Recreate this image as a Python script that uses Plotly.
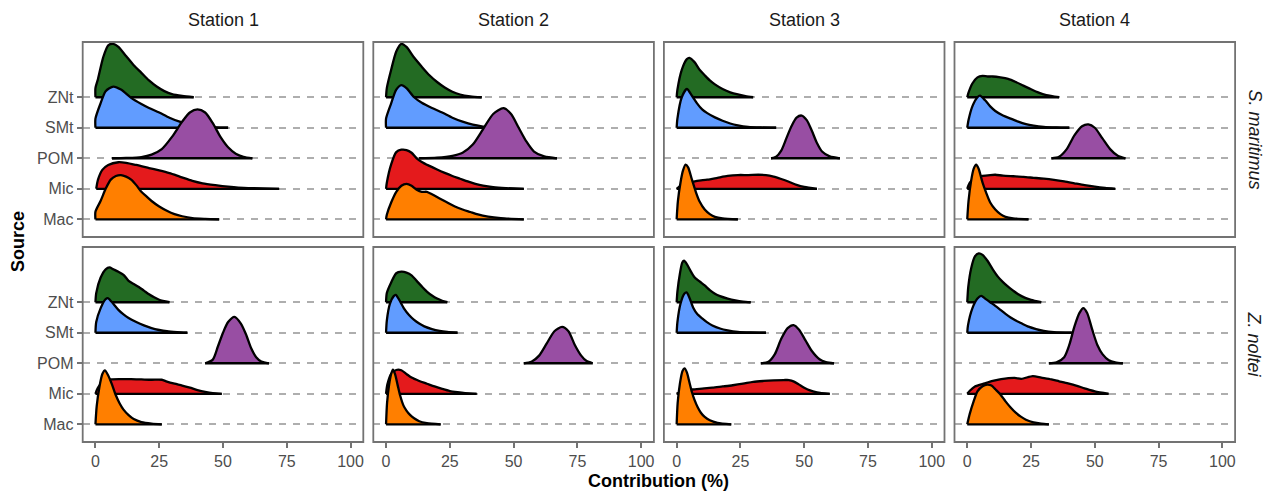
import plotly.graph_objects as go

W, H = 1270, 492

stations = ["Station 1", "Station 2", "Station 3", "Station 4"]
species = ["S. maritimus", "Z. noltei"]
sources = ["Mac", "Mic", "POM", "SMt", "ZNt"]          # bottom -> top
source_colors = ["#FF7F00", "#E41A1C", "#984EA3", "#619CFF", "#236B23"]
x_ticks = [0, 25, 50, 75, 100]

# Ridge outlines: (contribution %, ridge height in row units)
sm_station1 = {
    "ZNt": [(0, 0), (0, 0.3), (1, 0.6), (3, 1.3), (5, 1.7), (7, 1.75), (9, 1.65), (12, 1.35), (15, 1.05), (18, 0.8), (21, 0.55), (24, 0.35), (27, 0.2), (30, 0.1), (34, 0.04), (38.5, 0)],
    "SMt": [(0, 0), (0, 0.3), (2, 0.8), (4, 1.2), (7, 1.35), (10, 1.25), (14, 0.98), (18, 0.78), (21, 0.65), (25, 0.5), (29, 0.33), (33, 0.2), (37, 0.1), (42, 0.04), (47, 0.015), (52, 0)],
    "POM": [(6.5, 0), (12, 0.01), (18, 0.04), (22, 0.12), (26, 0.3), (30, 0.7), (34, 1.2), (37, 1.5), (40, 1.6), (43, 1.5), (46, 1.15), (49, 0.7), (52, 0.36), (55, 0.15), (58, 0.05), (61.5, 0)],
    "Mic": [(0.3, 0), (1, 0.3), (2.7, 0.62), (5, 0.78), (9, 0.87), (12, 0.85), (16, 0.78), (21, 0.68), (25, 0.6), (29, 0.51), (33, 0.4), (38, 0.26), (42, 0.18), (47, 0.12), (52, 0.07), (56, 0.04), (62, 0.02), (72, 0)],
    "Mac": [(0, 0), (0, 0.25), (2, 0.6), (4, 1.0), (6, 1.3), (8, 1.42), (10, 1.45), (12, 1.4), (14, 1.3), (16, 1.12), (18, 0.9), (20, 0.75), (22, 0.6), (25, 0.42), (28, 0.28), (31, 0.17), (34, 0.1), (38, 0.04), (43, 0.015), (48.5, 0)],
}
sm_station2 = {
    "ZNt": [(0, 0), (0.3, 0.3), (2, 0.9), (4, 1.5), (6, 1.75), (8, 1.65), (11, 1.3), (14, 1.0), (17, 0.72), (20, 0.5), (23, 0.32), (26, 0.18), (29, 0.09), (33, 0.03), (37.5, 0)],
    "SMt": [(0, 0), (0, 0.3), (2, 0.8), (4, 1.25), (6, 1.4), (8, 1.3), (11, 1.0), (14, 0.82), (18, 0.65), (22, 0.5), (26, 0.33), (30, 0.2), (34, 0.1), (38, 0.04), (42, 0)],
    "POM": [(13, 0), (20, 0.02), (26, 0.08), (30, 0.18), (34, 0.45), (38, 0.95), (42, 1.45), (46, 1.64), (49, 1.45), (52, 1.0), (55, 0.55), (58, 0.22), (62, 0.06), (67, 0)],
    "Mic": [(0, 0), (0.3, 0.2), (2, 0.8), (4, 1.2), (6, 1.28), (8, 1.27), (10, 1.18), (12, 1.0), (14, 0.88), (17, 0.75), (20, 0.63), (23, 0.52), (26, 0.42), (29, 0.33), (32, 0.24), (35, 0.16), (38, 0.1), (42, 0.05), (47, 0.02), (54, 0)],
    "Mac": [(0, 0), (0.3, 0.15), (2, 0.55), (4, 0.9), (6, 1.1), (8, 1.16), (10, 1.1), (12, 0.97), (14, 0.9), (16, 0.9), (18, 0.82), (21, 0.68), (24, 0.55), (27, 0.42), (30, 0.32), (33, 0.24), (36, 0.16), (40, 0.09), (45, 0.04), (54, 0)],
}
sm_station3 = {
    "ZNt": [(0, 0), (0.3, 0.25), (2, 0.9), (4, 1.25), (5, 1.29), (7, 1.15), (9, 0.9), (11, 0.72), (13, 0.55), (15, 0.42), (18, 0.27), (21, 0.16), (24, 0.09), (27, 0.04), (30, 0)],
    "SMt": [(0, 0), (0.3, 0.3), (2, 1.0), (4, 1.27), (6, 1.05), (8, 0.8), (10, 0.6), (12, 0.48), (15, 0.34), (18, 0.23), (21, 0.14), (24, 0.08), (28, 0.03), (33, 0.01), (39, 0)],
    "POM": [(37, 0), (39, 0.05), (41, 0.25), (43, 0.65), (45, 1.05), (47, 1.33), (49, 1.4), (51, 1.25), (53, 0.9), (55, 0.5), (57, 0.22), (60, 0.06), (64, 0)],
    "Mic": [(0, 0), (2, 0.12), (5, 0.2), (8, 0.26), (12, 0.3), (16, 0.36), (20, 0.42), (24, 0.45), (28, 0.45), (32, 0.46), (35, 0.45), (38, 0.4), (41, 0.32), (44, 0.23), (47, 0.13), (50, 0.06), (55, 0)],
    "Mac": [(0, 0), (0.5, 0.6), (1.5, 1.2), (2.5, 1.6), (3.5, 1.79), (4.5, 1.7), (6, 1.3), (7.5, 0.9), (9, 0.58), (11, 0.32), (13, 0.17), (15, 0.08), (18, 0.03), (24, 0)],
}
sm_station4 = {
    "ZNt": [(0, 0), (0.5, 0.15), (2, 0.45), (4, 0.65), (6, 0.7), (8, 0.68), (10, 0.68), (13, 0.65), (16, 0.6), (19, 0.5), (22, 0.38), (25, 0.26), (28, 0.15), (31, 0.07), (36, 0)],
    "SMt": [(0, 0), (0.5, 0.25), (2, 0.7), (4, 1.0), (5, 1.05), (7, 0.9), (9, 0.7), (11, 0.55), (14, 0.4), (17, 0.3), (20, 0.2), (23, 0.12), (26, 0.07), (30, 0.03), (35, 0.01), (40, 0)],
    "POM": [(33, 0), (36, 0.05), (39, 0.3), (42, 0.75), (45, 1.05), (47.5, 1.11), (50, 1.0), (53, 0.65), (56, 0.3), (59, 0.08), (62, 0)],
    "Mic": [(0, 0), (1, 0.2), (3, 0.35), (6, 0.42), (9, 0.45), (11, 0.46), (14, 0.43), (18, 0.41), (22, 0.39), (26, 0.36), (30, 0.33), (34, 0.29), (38, 0.24), (42, 0.18), (46, 0.12), (50, 0.07), (54, 0.03), (58, 0)],
    "Mac": [(0, 0), (0.5, 0.6), (1.5, 1.25), (2.5, 1.65), (3.5, 1.79), (4.5, 1.65), (6, 1.2), (7.5, 0.85), (9, 0.55), (11, 0.32), (13, 0.17), (15, 0.08), (18, 0.03), (24, 0)],
}
zn_station1 = {
    "ZNt": [(0, 0), (0.3, 0.3), (2, 0.8), (4, 1.08), (5.5, 1.14), (7, 1.08), (9, 1.0), (11, 0.9), (13, 0.7), (15, 0.6), (17, 0.5), (19, 0.38), (21, 0.26), (23, 0.16), (25, 0.08), (29, 0)],
    "SMt": [(0, 0), (0.3, 0.35), (2, 0.8), (4, 1.1), (5, 1.13), (7, 0.95), (9, 0.75), (11, 0.6), (13, 0.48), (16, 0.35), (19, 0.24), (22, 0.15), (25, 0.09), (28, 0.05), (32, 0.02), (36, 0)],
    "POM": [(43, 0), (46, 0.12), (48, 0.55), (50, 1.0), (52, 1.35), (54.5, 1.52), (57, 1.3), (59, 0.95), (61, 0.5), (63, 0.2), (65, 0.06), (68, 0)],
    "Mic": [(0, 0), (1, 0.2), (3, 0.4), (6, 0.47), (10, 0.48), (14, 0.48), (18, 0.47), (22, 0.46), (26, 0.46), (28, 0.4), (31, 0.33), (34, 0.27), (37, 0.2), (40, 0.12), (43, 0.06), (46, 0.02), (49.5, 0)],
    "Mac": [(0, 0), (0.5, 0.6), (1.5, 1.2), (2.7, 1.65), (3.7, 1.77), (5, 1.6), (6.5, 1.3), (8, 0.95), (9.5, 0.68), (11, 0.48), (13, 0.3), (15, 0.17), (18, 0.07), (22, 0.02), (26, 0)],
}
zn_station2 = {
    "ZNt": [(0, 0), (0.3, 0.3), (2, 0.65), (4, 0.95), (6, 1.0), (8, 0.97), (10, 0.88), (12, 0.7), (14, 0.52), (16, 0.35), (18, 0.22), (20, 0.12), (22, 0.05), (24, 0)],
    "SMt": [(0, 0), (0.3, 0.4), (1.5, 0.95), (3, 1.2), (3.8, 1.24), (5, 1.1), (7, 0.8), (9, 0.58), (11, 0.42), (13, 0.3), (15, 0.21), (18, 0.12), (21, 0.06), (24, 0.025), (28, 0)],
    "POM": [(54, 0), (57, 0.05), (60, 0.25), (63, 0.65), (66, 1.05), (69, 1.19), (71.5, 1.05), (74, 0.6), (76.5, 0.25), (78.5, 0.08), (81, 0)],
    "Mic": [(0, 0), (0.5, 0.3), (2, 0.65), (4, 0.78), (6, 0.77), (8, 0.65), (10, 0.53), (13, 0.42), (16, 0.33), (19, 0.24), (22, 0.16), (25, 0.09), (28, 0.05), (31, 0.02), (35.5, 0)],
    "Mac": [(0, 0), (0.4, 0.7), (1.2, 1.3), (2, 1.65), (2.7, 1.79), (3.5, 1.65), (4.5, 1.3), (5.5, 0.95), (6.8, 0.62), (8, 0.45), (9.5, 0.3), (11, 0.2), (13, 0.1), (16, 0.04), (21.4, 0)],
}
zn_station3 = {
    "ZNt": [(0, 0), (0.3, 0.35), (1.3, 0.95), (2.2, 1.3), (2.9, 1.36), (4, 1.25), (5.5, 1.02), (7, 0.82), (9, 0.68), (11, 0.55), (13, 0.4), (15, 0.28), (17, 0.2), (20, 0.12), (23, 0.06), (26, 0.02), (29, 0)],
    "SMt": [(0, 0), (0.3, 0.35), (1.5, 0.95), (3, 1.28), (3.9, 1.32), (5, 1.15), (6.5, 0.82), (8, 0.62), (10, 0.47), (12, 0.34), (14, 0.24), (17, 0.14), (20, 0.08), (24, 0.03), (29, 0.01), (35, 0)],
    "POM": [(33, 0), (36, 0.05), (38.5, 0.3), (41, 0.8), (43.5, 1.15), (45.8, 1.25), (48, 1.1), (50.5, 0.75), (53, 0.4), (56, 0.13), (58.5, 0.04), (61.7, 0)],
    "Mic": [(0, 0), (2, 0.08), (6, 0.14), (10, 0.17), (14, 0.2), (18, 0.24), (22, 0.28), (26, 0.33), (30, 0.39), (34, 0.42), (38, 0.44), (42, 0.45), (44, 0.45), (46, 0.4), (48, 0.3), (50, 0.2), (52, 0.12), (55, 0.05), (60, 0)],
    "Mac": [(0, 0), (0.4, 0.7), (1.3, 1.35), (2.3, 1.75), (3.1, 1.83), (4, 1.7), (5, 1.38), (6, 1.05), (7, 0.8), (8.3, 0.55), (9.5, 0.38), (11, 0.24), (13, 0.13), (16, 0.05), (21.4, 0)],
}
zn_station4 = {
    "ZNt": [(0, 0), (0.4, 0.5), (1.5, 1.1), (3, 1.5), (4.5, 1.6), (6, 1.55), (8, 1.35), (10, 1.08), (12, 0.84), (14, 0.66), (16, 0.51), (18, 0.38), (20, 0.26), (22.5, 0.15), (25, 0.08), (29, 0)],
    "SMt": [(0, 0), (0.3, 0.25), (2, 0.8), (4, 1.12), (5.5, 1.21), (7, 1.12), (9, 1.0), (11, 0.88), (13, 0.75), (15, 0.62), (17, 0.5), (19, 0.4), (21, 0.32), (24, 0.2), (27, 0.12), (30, 0.06), (34, 0.02), (41, 0)],
    "POM": [(32, 0), (35, 0.03), (38, 0.2), (40, 0.6), (42, 1.2), (44, 1.65), (45.5, 1.81), (47, 1.65), (49, 1.1), (51, 0.6), (53, 0.3), (55.5, 0.1), (58, 0.03), (61, 0)],
    "Mic": [(0, 0), (1, 0.1), (3, 0.24), (6.8, 0.34), (10, 0.42), (13.3, 0.48), (18.6, 0.52), (21.2, 0.49), (25.7, 0.58), (29, 0.53), (33, 0.47), (36, 0.41), (39.5, 0.34), (43, 0.26), (46, 0.18), (50, 0.08), (55.4, 0)],
    "Mac": [(0, 0), (1, 0.35), (2.5, 0.75), (4, 1.08), (6, 1.25), (7.8, 1.3), (9.5, 1.27), (11, 1.15), (13, 0.98), (15, 0.75), (17, 0.55), (19, 0.38), (21, 0.25), (23, 0.15), (26, 0.06), (29, 0.02), (32, 0)],
}

panels = [
    [sm_station1, sm_station2, sm_station3, sm_station4],
    [zn_station1, zn_station2, zn_station3, zn_station4],
]

# ---------------- layout geometry (pixels) ----------------
col_left0, col_w, col_gap = 82.7, 280.6, 10.0
row_top0, row_h, row_gap = 42.0, 195.0, 10.0
x_range = [-5, 105]
y_range = [0.42, 6.81]

FONT = "Liberation Sans, Arial, Helvetica, sans-serif"
BORDER = "#737373"
GRID = "#AEAEAE"
OUTLINE_W = 2.3

fig = go.Figure()
layout = dict(
    width=W, height=H, margin=dict(l=0, r=0, t=0, b=0),
    paper_bgcolor="white", plot_bgcolor="white",
    showlegend=False, font=dict(family=FONT),
)
shapes = []
annotations = []

for r in range(2):
    for c in range(4):
        i = r * 4 + c + 1
        left = col_left0 + c * (col_w + col_gap)
        top = row_top0 + r * (row_h + row_gap)
        xd = [left / W, (left + col_w) / W]
        yd = [1 - (top + row_h) / H, 1 - top / H]
        xname = "xaxis" if i == 1 else f"xaxis{i}"
        yname = "yaxis" if i == 1 else f"yaxis{i}"
        xref = "x" if i == 1 else f"x{i}"
        yref = "y" if i == 1 else f"y{i}"
        layout[xname] = dict(
            domain=xd, range=x_range, anchor=yref, showgrid=False, zeroline=False,
            showline=False, tickvals=x_ticks, ticktext=[str(v) for v in x_ticks],
            ticks="outside" if r == 1 else "", ticklen=5, tickwidth=1.8, tickcolor=BORDER,
            showticklabels=(r == 1), tickfont=dict(size=16, color="#4D4D4D", family=FONT),
            fixedrange=True,
        )
        layout[yname] = dict(
            domain=yd, range=y_range, anchor=xref, zeroline=False, showline=False,
            tickvals=[1, 2, 3, 4, 5], ticktext=sources,
            showgrid=True, gridcolor=GRID, gridwidth=2, griddash="7px,7px",
            ticks="outside" if c == 0 else "", ticklen=5, tickwidth=1.8, tickcolor=BORDER,
            showticklabels=(c == 0), tickfont=dict(size=16, color="#4D4D4D", family=FONT),
            fixedrange=True,
        )
        shapes.append(dict(type="rect", xref="paper", yref="paper", x0=xd[0], x1=xd[1],
                           y0=yd[0], y1=yd[1], line=dict(color=BORDER, width=1.8),
                           fillcolor="rgba(0,0,0,0)", layer="above"))

        panel = panels[r][c]
        for k in reversed(range(len(sources))):
            src = sources[k]
            base = k + 1
            pts = panel[src]
            xs = [p[0] for p in pts]
            ys = [base + p[1] for p in pts]
            fig.add_trace(go.Scatter(
                x=xs, y=ys, mode="lines", fill="toself", fillcolor=source_colors[k],
                line=dict(color="black", width=OUTLINE_W, shape="spline", smoothing=0.7),
                xaxis=xref, yaxis=yref, hoverinfo="skip", showlegend=False,
            ))
            fig.add_trace(go.Scatter(
                x=[xs[0], xs[-1]], y=[base, base], mode="lines",
                line=dict(color="black", width=OUTLINE_W),
                xaxis=xref, yaxis=yref, hoverinfo="skip", showlegend=False,
            ))

        if r == 0:
            annotations.append(dict(text=stations[c], xref="paper", yref="paper",
                                    x=(xd[0] + xd[1]) / 2, y=1 - 20 / H, showarrow=False,
                                    xanchor="center", yanchor="middle",
                                    font=dict(size=18, color="#1A1A1A", family=FONT)))
    top = row_top0 + r * (row_h + row_gap)
    annotations.append(dict(text=f"<i>{species[r]}</i>", xref="paper", yref="paper",
                            x=1254 / W, y=1 - (top + row_h / 2) / H, showarrow=False,
                            textangle=90, xanchor="center", yanchor="middle",
                            font=dict(size=18, color="#1A1A1A", family=FONT)))

annotations.append(dict(text="<b>Contribution (%)</b>", xref="paper", yref="paper",
                        x=(col_left0 + (4 * col_w + 3 * col_gap) / 2) / W, y=1 - 481 / H,
                        showarrow=False, xanchor="center", yanchor="middle",
                        font=dict(size=18, color="black", family=FONT)))
annotations.append(dict(text="<b>Source</b>", xref="paper", yref="paper",
                        x=18 / W, y=1 - 242 / H, showarrow=False, textangle=-90,
                        xanchor="center", yanchor="middle",
                        font=dict(size=18, color="black", family=FONT)))

layout["shapes"] = shapes
layout["annotations"] = annotations
fig.update_layout(**layout)
fig.write_html("out.html")
